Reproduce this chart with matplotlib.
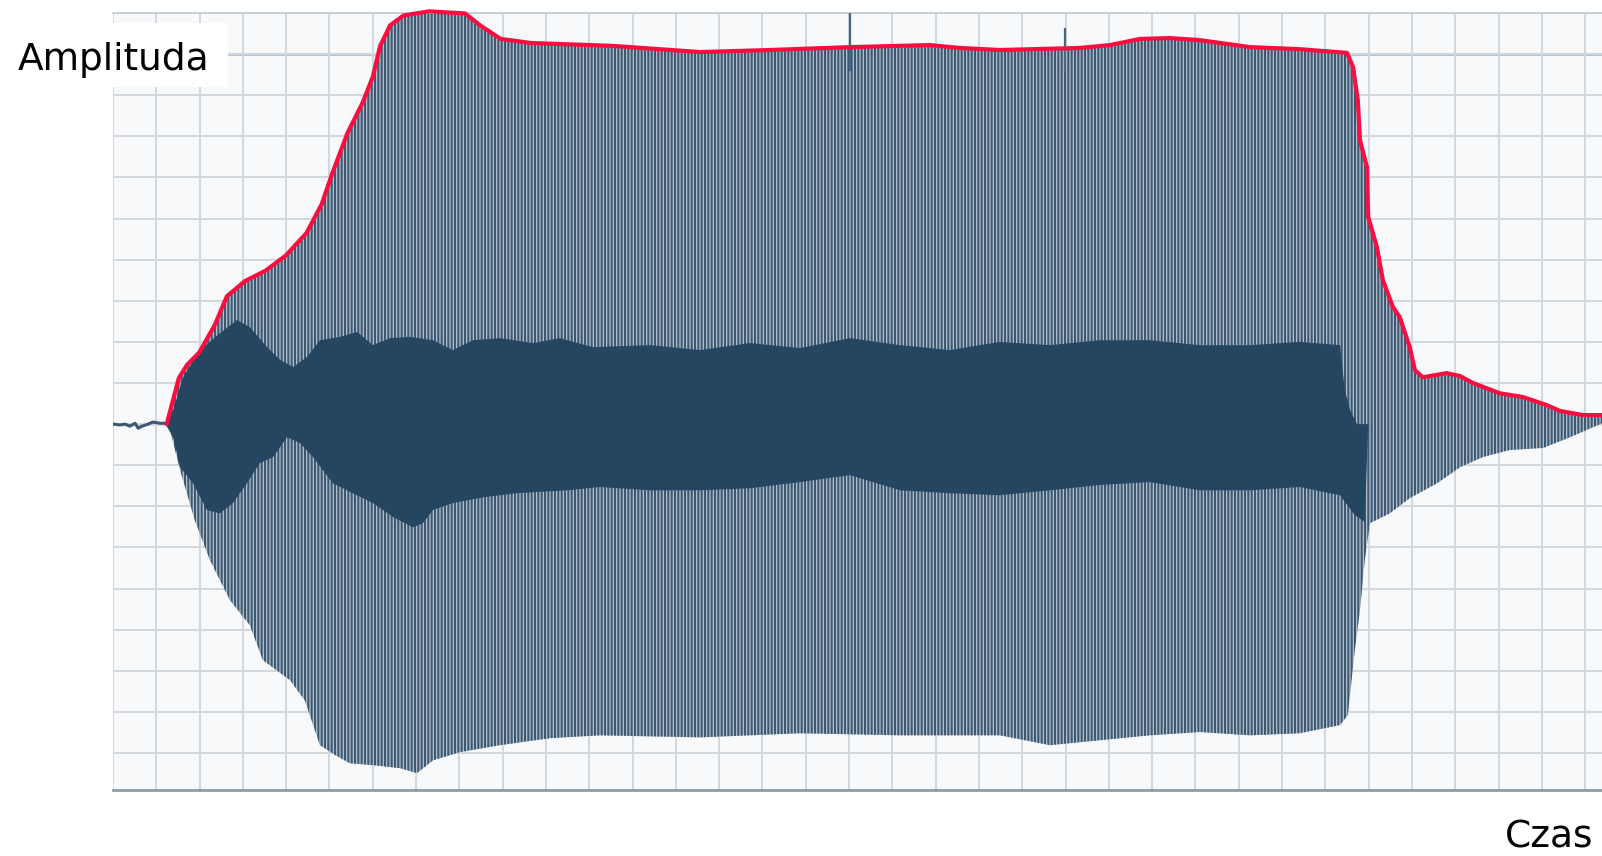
import numpy as np
import matplotlib
matplotlib.use("Agg")
import matplotlib.pyplot as plt
from matplotlib.patches import Rectangle

# time and amplitude both in grid cells (one cell = one grid square)

# red envelope drawn over the spike tops
env_t = [1.24, 1.52, 1.71, 1.99, 2.35, 2.63, 3.05, 3.52, 3.99, 4.47, 4.82, 5.06,
         5.42, 5.77, 6.00, 6.17, 6.40, 6.71, 7.30, 8.13, 8.48, 8.95, 9.66, 11.55,
         13.56, 15.17, 17.02, 18.87, 19.56, 20.48, 22.33, 23.03, 23.72, 24.41,
         25.10, 26.26, 27.41, 28.50, 28.64, 28.75, 28.80, 28.96, 28.99, 29.19,
         29.33, 29.56, 29.72, 29.95, 30.07, 30.25, 30.80, 31.11, 31.41, 32.03,
         32.56, 33.12, 33.42, 33.95, 34.39]
env_a = [0.00, 1.12, 1.44, 1.74, 2.41, 3.11, 3.48, 3.73, 4.10, 4.65, 5.35, 6.09,
         7.09, 7.83, 8.45, 9.20, 9.70, 9.94, 10.04, 9.99, 9.70, 9.37, 9.27, 9.20,
         9.05, 9.10, 9.17, 9.22, 9.15, 9.10, 9.15, 9.22, 9.37, 9.39,
         9.34, 9.17, 9.12, 9.03, 8.69, 7.88, 6.91, 6.25, 5.04, 4.31,
         3.50, 2.85, 2.60, 1.87, 1.31, 1.14, 1.24, 1.17, 1.00, 0.75,
         0.66, 0.46, 0.32, 0.22, 0.22]

# lowest reach of the spikes
low_t = [1.32, 1.55, 1.89, 2.24, 2.70, 3.16, 3.46, 4.09, 4.43, 4.78, 5.13, 5.47,
         6.05, 6.63, 7.02, 7.39, 8.01, 8.94, 10.09, 11.25, 13.56, 15.87, 18.18,
         20.48, 21.64, 22.79, 23.95, 25.10, 26.26, 27.41, 28.34, 28.52, 28.68,
         28.80, 28.91, 29.03, 29.49, 29.95, 30.58, 31.11, 31.64, 32.26, 33.03,
         33.65, 34.39]
low_a = [-0.15, -1.12, -2.34, -3.31, -4.28, -4.89, -5.74, -6.23, -6.72, -7.81,
         -8.05, -8.25, -8.30, -8.37, -8.49, -8.18, -7.98, -7.81, -7.64, -7.57,
         -7.62, -7.52, -7.57, -7.57, -7.81, -7.69, -7.57, -7.49, -7.57, -7.52,
         -7.32, -7.08, -5.50, -4.53, -3.31, -2.41, -2.17, -1.80, -1.44, -1.05,
         -0.80, -0.63, -0.58, -0.32, 0.02]

# dense dark core of the waveform
core_top_t = [1.20, 1.39, 1.62, 2.01, 2.47, 2.86, 3.16, 3.56, 3.86, 4.16, 4.48,
              4.78, 5.24, 5.64, 6.00, 6.40, 6.86, 7.39, 7.85, 8.31, 8.94, 9.70,
              10.32, 11.09, 12.40, 13.56, 14.71, 15.87, 17.02, 18.18, 19.33,
              20.48, 21.64, 22.79, 23.95, 25.10, 26.26, 27.41, 28.34, 28.45,
              28.57, 28.73]
core_top_a = [0.02, 0.34, 1.14, 1.80, 2.21, 2.53, 2.36, 1.87, 1.56, 1.39, 1.63,
              2.04, 2.12, 2.24, 1.92, 2.09, 2.12, 2.04, 1.80, 2.04, 2.09, 1.97,
              2.09, 1.87, 1.92, 1.80, 1.97, 1.85, 2.09, 1.92, 1.80,
              2.00, 1.92, 2.04, 2.04, 1.92, 1.92, 2.00, 1.92, 0.83,
              0.34, 0.00]
core_bot_t = [1.20, 1.39, 1.55, 1.85, 2.17, 2.47, 2.77, 3.09, 3.39, 3.70, 4.02,
              4.32, 4.62, 5.08, 5.54, 6.00, 6.47, 6.93, 7.16, 7.39, 7.85, 8.55,
              9.33, 10.48, 11.25, 12.40, 13.56, 14.71, 15.87, 17.02, 18.18,
              19.33, 20.48, 21.64, 22.79, 23.95, 25.10, 26.26, 27.41, 28.34,
              28.68, 28.91, 28.99]
core_bot_a = [0.02, -0.32, -1.05, -1.44, -2.09, -2.17, -1.92, -1.44, -0.95,
              -0.80, -0.32, -0.46, -0.80, -1.44, -1.68, -1.92, -2.26, -2.51,
              -2.41, -2.09, -1.92, -1.78, -1.68, -1.61, -1.53, -1.61, -1.61,
              -1.56, -1.41, -1.24, -1.61, -1.68, -1.73, -1.61, -1.48, -1.41,
              -1.61, -1.61, -1.53, -1.73, -2.21, -2.38, 0.00]

# silence before the onset
noise_t = [0.00, 0.16, 0.28, 0.39, 0.51, 0.58, 0.67, 0.81, 0.92, 1.09, 1.22]
noise_a = [0.00, -0.02, 0.00, -0.05, 0.02, -0.10, -0.05, 0.00, 0.05, 0.02, 0.02]

# a couple of spikes sticking out above the envelope
peak_t = [17.02, 21.99]
peak_a = [10.00, 9.64]

dark = "#254560"
spike = "#3b5873"

plt.rcParams["hatch.linewidth"] = 1.5

fig = plt.figure(figsize=(16.02, 8.56), dpi=100)
ax = fig.add_axes([113 / 1602, 66 / 856, 1 - 113 / 1602, 777 / 856])
ax.set_facecolor("#f8f9fa")
ax.set_xlim(0, 34.39)
ax.set_ylim(-8.9, 10.0)

ax.set_xticks(np.arange(0, 35, 1))
ax.set_yticks(np.arange(-8, 11, 1))
ax.grid(True, color="#d2d8df", linewidth=1.4, zorder=0)
ax.axhline(9, color="#b9c2cc", linewidth=2.2, zorder=0.5)
ax.tick_params(length=0, labelbottom=False, labelleft=False)
for side in ["left", "right"]:
    ax.spines[side].set_visible(False)
ax.spines["top"].set_color("#c3cbd3")
ax.spines["top"].set_linewidth(1.2)
ax.spines["bottom"].set_color("#8e9cab")
ax.spines["bottom"].set_linewidth(2)

ax.axhline(0, color="#a31c2a", linewidth=0.9, zorder=1)

# spike region: light fill with vertical hatching
px = np.concatenate([env_t, low_t[::-1]])
py = np.concatenate([env_a, low_a[::-1]])
ax.fill(px, py, facecolor="#b7c2cd", edgecolor=spike, hatch="|||||",
        linewidth=0, zorder=2)

# dense core
cx = np.concatenate([core_top_t, core_bot_t[::-1]])
cy = np.concatenate([core_top_a, core_bot_a[::-1]])
ax.fill(cx, cy, color=dark, linewidth=0, zorder=3)

ax.plot(noise_t, noise_a, color="#3b5874", linewidth=2.2, zorder=3)
ax.vlines(peak_t, 8.6, peak_a, color="#4a6680", linewidth=1.6, zorder=3)

ax.plot(env_t, env_a, color="#fd0d3f", linewidth=3, zorder=4,
        solid_capstyle="round", solid_joinstyle="round", clip_on=False)

# axis captions
fig.patches.append(Rectangle((0, 769 / 856), 228 / 1602, 64 / 856,
                             transform=fig.transFigure, facecolor="white",
                             edgecolor="none", zorder=5))
fig.text(18 / 1602, 786 / 856, "Amplituda", fontsize=27, color="black",
         va="baseline", ha="left", zorder=6)
fig.text(1593 / 1602, 8 / 856, "Czas", fontsize=27, color="black",
         va="baseline", ha="right")

fig.savefig("out.png", dpi=100)
